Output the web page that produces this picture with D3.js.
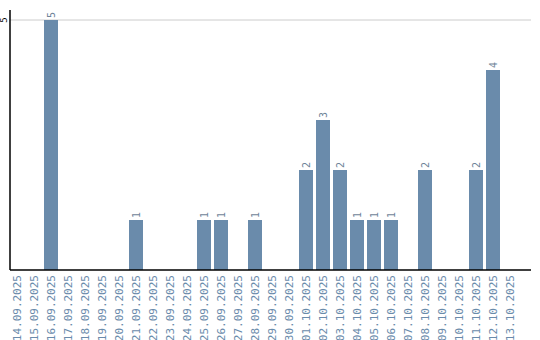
<!DOCTYPE html>
<html>
<head>
<meta charset="utf-8">
<script src="https://cdn.jsdelivr.net/npm/d3@7"></script>
<style>
  body { margin: 0; background: #fff; }
  svg { display: block; font-family: "DejaVu Sans Mono", monospace; }
</style>
</head>
<body>
<div id="chart"></div>
<script>
    const dates = ['14.09.2025','15.09.2025','16.09.2025','17.09.2025','18.09.2025','19.09.2025',
      '20.09.2025','21.09.2025','22.09.2025','23.09.2025','24.09.2025','25.09.2025','26.09.2025',
      '27.09.2025','28.09.2025','29.09.2025','30.09.2025','01.10.2025','02.10.2025','03.10.2025',
      '04.10.2025','05.10.2025','06.10.2025','07.10.2025','08.10.2025','09.10.2025','10.10.2025',
      '11.10.2025','12.10.2025','13.10.2025'];
    const counts = [0,0,5,0,0,0,0,1,0,0,0,1,1,0,1,0,0,2,3,2,1,1,1,0,2,0,0,2,4,0];
    const yTicks = [5];

    const width = 540, height = 340;
    const mLeft = 10, mRight = 517, mTop = 20, mBottom = 270;

    const svg = d3.select('#chart').append('svg')
      .attr('width', width)
      .attr('height', height);

    const x = d3.scaleBand()
      .domain(dates)
      .range([mLeft, mRight])
      .paddingInner(3 / 17)
      .paddingOuter(0);

    const y = d3.scaleLinear()
      .domain([0, 5])
      .range([mBottom, mTop]);

    const rows = dates.map((d, i) => ({ date: d, v: counts[i] })).filter(d => d.v > 0);

    // gridline
    svg.append('g').selectAll('line')
      .data(yTicks)
      .join('line')
      .attr('x1', mLeft).attr('x2', 531)
      .attr('y1', d => y(d)).attr('y2', d => y(d))
      .attr('stroke', '#cccccc');

    // bars
    svg.append('g').selectAll('rect')
      .data(rows)
      .join('rect')
      .attr('x', d => x(d.date))
      .attr('width', x.bandwidth())
      .attr('y', d => y(d.v))
      .attr('height', d => y(0) - y(d.v))
      .attr('fill', '#6a8bab');

    // value labels
    svg.append('g').selectAll('text')
      .data(rows)
      .join('text')
      .attr('transform', d => `translate(${x(d.date) + x.bandwidth() / 2 + 3.5},${y(d.v) - 2}) rotate(-90)`)
      .attr('text-anchor', 'start')
      .attr('font-size', 10)
      .attr('fill', '#6f8499')
      .text(d => d.v);

    // x labels
    svg.append('g').selectAll('text')
      .data(dates)
      .join('text')
      .attr('transform', d => `translate(${x(d) + x.bandwidth() / 2 + 4},${mBottom + 5}) rotate(-90)`)
      .attr('text-anchor', 'end')
      .attr('font-size', 11)
      .attr('fill', '#6a8bab')
      .text(d => d);

    // y tick labels
    svg.append('g').selectAll('text')
      .data(yTicks)
      .join('text')
      .attr('transform', d => `translate(7,${y(d)}) rotate(-90)`)
      .attr('text-anchor', 'middle')
      .attr('font-size', 9)
      .attr('fill', '#000')
      .text(d => d);

    // axis lines
    svg.append('line')
      .attr('x1', mLeft).attr('x2', mLeft)
      .attr('y1', 10).attr('y2', mBottom)
      .attr('stroke', '#000').attr('stroke-width', 1.5);
    svg.append('line')
      .attr('x1', mLeft).attr('x2', 531)
      .attr('y1', mBottom).attr('y2', mBottom)
      .attr('stroke', '#000').attr('stroke-width', 1.5);
</script>
</body>
</html>
